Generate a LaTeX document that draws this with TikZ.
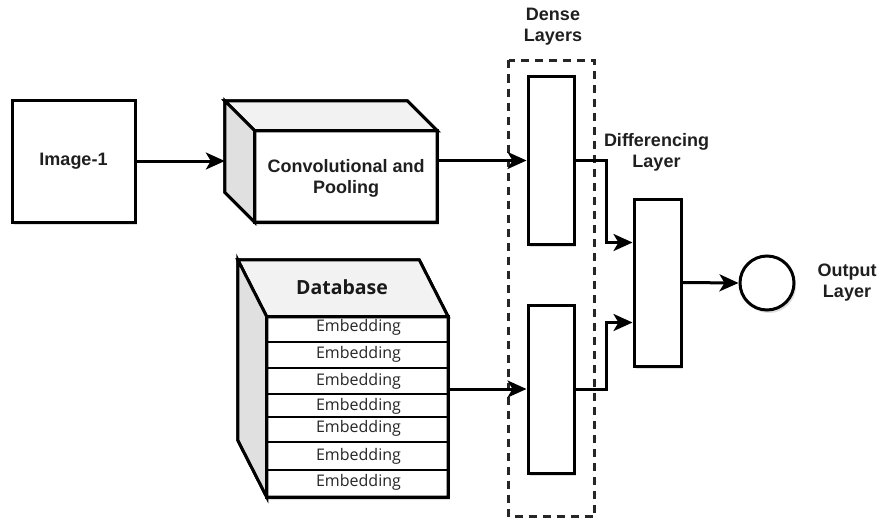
\documentclass[tikz,border=0pt]{standalone}
\usepackage{fontspec}
\setmainfont{Liberation Sans}
\newfontfamily\segoe{Open Sans}
\usetikzlibrary{arrows.meta,calc,shadows}

\begin{document}
\begin{tikzpicture}[x=1pt,y=-1pt,
  outline/.style={draw=black,line width=3pt,line join=miter},
  shade/.style={drop shadow={shadow xshift=2pt,shadow yshift=-3pt,opacity=0.25}},
  block/.style={outline,fill=white,inner sep=0pt,shade},
  lbl/.style={font=\bfseries\fontsize{18}{21}\selectfont,align=center,text=black!88,inner sep=0pt},
  emb/.style={font=\segoe\fontsize{16}{18}\selectfont,text=black!85,inner sep=0pt},
  arr/.style={line width=3pt,-{Stealth[length=19pt,width=17pt,inset=5pt]}},
  topface/.style={outline,fill=black!5},
  sideface/.style={outline,fill=black!12}
]
% canvas
\fill[white] (0,0) rectangle (878,519);
\useasboundingbox (0,0) rectangle (878,519);

% input image
\node[block,minimum width=123pt,minimum height=122pt,lbl] (img) at (73.5,161) {Image-1};

% convolution block (front face plus top and side faces)
\node[inner sep=0pt,minimum width=182pt,minimum height=91pt] (conv) at (346,176.5) {};
\filldraw[outline,fill=white,shade] (conv.north west) -- ++(-30,-30)
   -- ($(conv.north east)+(-30,-30)$) -- (conv.north east) -- (conv.south east)
   -- (conv.south west) -- ($(conv.south west)+(-30,-30)$) -- ($(conv.north west)+(-30,-30)$);
\filldraw[topface] (conv.north west) -- ++(-30,-30) -- ($(conv.north east)+(-30,-30)$) -- (conv.north east) -- cycle;
\filldraw[sideface] (conv.north west) -- ++(-30,-30) -- ($(conv.south west)+(-30,-30)$) -- (conv.south west) -- cycle;
\draw[outline] (conv.north west) rectangle (conv.south east);
\node[lbl] (convtext) at ($(conv.center)+(0,2)$) {Convolutional and\\Pooling};
\coordinate (convL) at ($(conv.west)+(-30,0)$);

% database block with embedding rows
\node[inner sep=0pt,minimum width=181pt,minimum height=180pt] (db) at (357.5,407) {};
\filldraw[outline,fill=white,shade] (db.north west) -- ++(-29,-57)
   -- ($(db.north east)+(-29,-57)$) -- (db.north east) -- (db.south east)
   -- (db.south west) -- ($(db.south west)+(-29,-57)$) -- ($(db.north west)+(-29,-57)$);
\filldraw[topface] (db.north west) -- ++(-29,-57) -- ($(db.north east)+(-29,-57)$) -- (db.north east) -- cycle;
\filldraw[sideface] (db.north west) -- ++(-29,-57) -- ($(db.south west)+(-29,-57)$) -- (db.south west) -- cycle;
\foreach \yy in {25,51,77,100,125,153}
  \draw[line width=2pt] ($(db.north west)+(0,\yy)$) -- ($(db.north east)+(0,\yy)$);
\draw[outline] (db.north west) rectangle (db.south east);
\node[font=\segoe\bfseries\fontsize{19.5}{22}\selectfont,inner sep=0pt,text=black!90] (dbtitle) at (342,287) {Database};
\foreach \yy [count=\i] in {11,38,65,90,112,140,166}
  \node[emb] (emb\i) at ($(db.north)+(1,\yy)$) {Embedding};

% dense layers
\node[block,minimum width=46pt,minimum height=167pt] (d1) at (551,160.5) {};
\node[block,minimum width=46pt,minimum height=168pt] (d2) at (551,389) {};
\draw[line width=2.6pt,black!85,dash pattern=on 8pt off 6pt]
  ($(d1.north west)+(-18,-15)$) rectangle ($(d2.south east)+(19,42)$);
\node[lbl] (densetext) at (553,26.5) {Dense\\Layers};

% differencing layer and output
\node[block,minimum width=47pt,minimum height=167pt] (diff) at (657.5,282.5) {};
\node[lbl] (difftext) at (656.5,152) {Differencing\\Layer};
\node[block,circle,minimum size=54pt] (out) at (767,283) {};
\node[lbl] (outtext) at (847,283) {Output\\Layer};

% connectors
\draw[arr] (img.east) -- (img.east -| convL);
\draw[arr] (d1.west -| conv.east) -- (d1.west);
\draw[arr] (d2.west -| db.east) -- (d2.west);
\draw[arr] (d1.east) -- ++(31,0) |- ($(diff.west)+(0,-40)$);
\draw[arr] (d2.east) -- ++(31,0) |- ($(diff.west)+(0,40)$);
\draw[arr] (diff.east) -- (out.west);
\end{tikzpicture}
\end{document}
